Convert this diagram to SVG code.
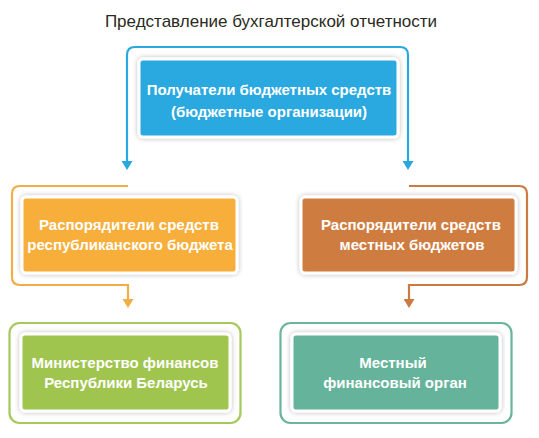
<svg xmlns="http://www.w3.org/2000/svg" width="539" height="438" viewBox="0 0 539 438">
<style>
.title{font-family:"Liberation Sans",Arial,sans-serif;font-size:17px;fill:#2b2a22;text-anchor:middle}
.lbl{font-family:"Liberation Sans",Arial,sans-serif;font-size:15px;font-weight:bold;fill:#ffffff;text-anchor:middle}
.box{stroke:#ffffff;stroke-width:3;filter:url(#sh)}
.conn{fill:none;stroke-width:2.2}
</style>
<defs>
<filter id="sh" x="-10%" y="-20%" width="120%" height="140%">
<feDropShadow dx="0" dy="0" stdDeviation="2.5" flood-color="#000" flood-opacity="0.28"/>
</filter>
<marker id="aB" viewBox="0 0 9 11" refX="0" refY="5.5" markerWidth="9" markerHeight="11" markerUnits="userSpaceOnUse" orient="auto"><path d="M0,0 L9,5.5 L0,11 z" fill="#29a8e0"/></marker>
<marker id="aO" viewBox="0 0 9 11" refX="0" refY="5.5" markerWidth="9" markerHeight="11" markerUnits="userSpaceOnUse" orient="auto"><path d="M0,0 L9,5.5 L0,11 z" fill="#f2ad45"/></marker>
<marker id="aR" viewBox="0 0 9 11" refX="0" refY="5.5" markerWidth="9" markerHeight="11" markerUnits="userSpaceOnUse" orient="auto"><path d="M0,0 L9,5.5 L0,11 z" fill="#cd7a42"/></marker>
</defs>
<rect width="539" height="438" fill="#ffffff"/>
<text class="title" x="271" y="27">Представление бухгалтерской отчетности</text>

<g id="connectors">
<path class="conn" stroke="#29a8e0" d="M268,47 H135 Q127,47 127,55 V161" marker-end="url(#aB)"/>
<path class="conn" stroke="#29a8e0" d="M267,47 H400 Q408,47 408,55 V161" marker-end="url(#aB)"/>
<path class="conn" stroke="#f2ad45" d="M128,186 H20 Q12,186 12,194 V277 Q12,285 20,285 H128 V299" marker-end="url(#aO)"/>
<path class="conn" stroke="#cd7a42" d="M409,186 H519 Q527,186 527,194 V277 Q527,285 519,285 H409 V299" marker-end="url(#aR)"/>
<rect x="9.5" y="323" width="231" height="100" rx="10" fill="none" stroke="#a5c95a" stroke-width="2.2"/>
<rect x="280.5" y="323" width="231" height="100" rx="10" fill="none" stroke="#6bb49d" stroke-width="2.2"/>
</g>

<g id="recipients">
<rect class="box" x="139" y="59" width="259" height="78" rx="4" fill="#29a8e0"/>
<text class="lbl" x="269" y="95">Получатели бюджетных средств</text>
<text class="lbl" x="269" y="117">(бюджетные организации)</text>
</g>
<g id="republican">
<rect class="box" x="22" y="197" width="215" height="76" rx="4" fill="#f7ae3b"/>
<text class="lbl" x="129" y="230">Распорядители средств</text>
<text class="lbl" x="130" y="250">республиканского бюджета</text>
</g>
<g id="local">
<rect class="box" x="301" y="197" width="215" height="76" rx="4" fill="#cf7c40"/>
<text class="lbl" x="411" y="230">Распорядители средств</text>
<text class="lbl" x="412" y="250">местных бюджетов</text>
</g>
<g id="ministry">
<rect class="box" x="21" y="334" width="209" height="77" rx="4" fill="#9fc54f"/>
<text class="lbl" x="125" y="368">Министерство финансов</text>
<text class="lbl" x="126" y="388">Республики Беларусь</text>
</g>
<g id="localfin">
<rect class="box" x="292" y="334" width="208" height="77" rx="4" fill="#65b39a"/>
<text class="lbl" x="393" y="368">Местный</text>
<text class="lbl" x="395" y="388">финансовый орган</text>
</g>
</svg>
